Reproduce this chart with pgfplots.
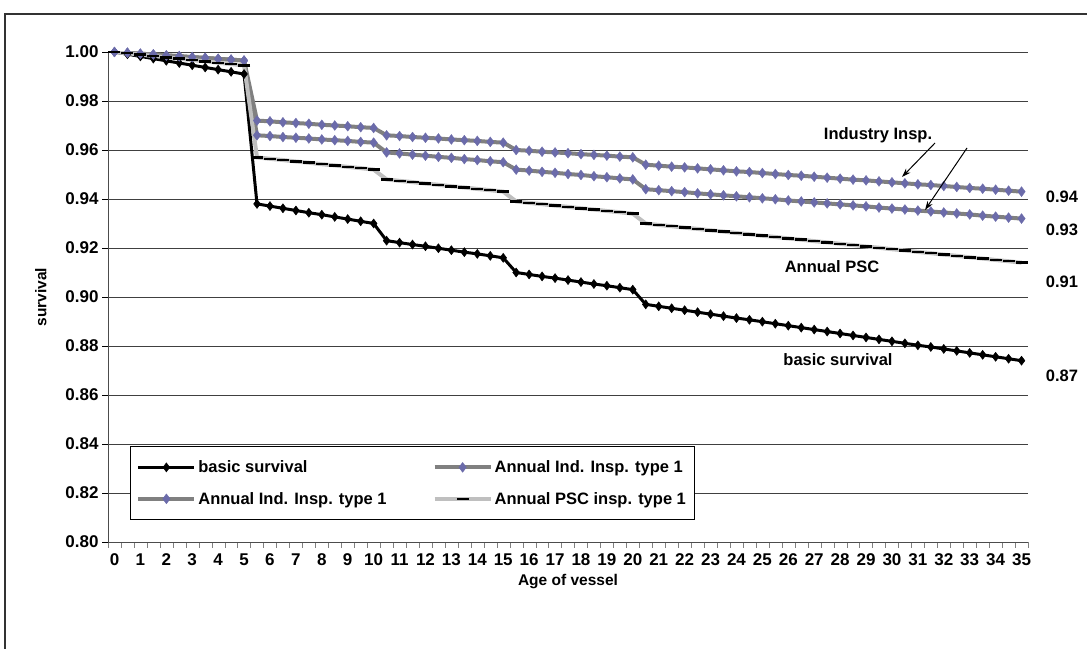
\documentclass[border=0pt]{standalone}
\usepackage{pgfplots}
\pgfplotsset{compat=1.18}
\usepackage{pgfplotstable}
\usetikzlibrary{arrows.meta}
\usepackage{fontspec}
\setmainfont{Liberation Sans}
\definecolor{dia}{HTML}{6B6BAA}
\pgfplotstableread{
x b i1 i2 p
0 1.0000 1.0000 1.0000 1.0000
0.5 .9991 .9997 .9997 .9995
1 .9982 .9993 .9993 .9989
1.5 .9973 .9990 .9990 .9984
2 .9964 .9986 .9986 .9978
2.5 .9955 .9983 .9983 .9973
3 .9946 .9979 .9979 .9967
3.5 .9937 .9976 .9976 .9962
4 .9928 .9972 .9972 .9956
4.5 .9919 .9969 .9969 .9951
5 .9910 .9965 .9965 .9945
5.5 .9380 .9720 .9660 .9570
6 .9371 .9717 .9657 .9564
6.5 .9362 .9713 .9653 .9559
7 .9353 .9710 .9650 .9553
7.5 .9344 .9707 .9647 .9548
8 .9336 .9703 .9643 .9542
8.5 .9327 .9700 .9640 .9537
9 .9318 .9697 .9637 .9531
9.5 .9309 .9693 .9633 .9526
10 .9300 .9690 .9630 .9520
10.5 .9230 .9660 .9590 .9480
11 .9222 .9657 .9586 .9474
11.5 .9214 .9653 .9581 .9469
12 .9207 .9650 .9577 .9463
12.5 .9199 .9647 .9572 .9458
13 .9191 .9643 .9568 .9452
13.5 .9183 .9640 .9563 .9447
14 .9176 .9637 .9559 .9441
14.5 .9168 .9633 .9554 .9436
15 .9160 .9630 .9550 .9430
15.5 .9100 .9600 .9520 .9390
16 .9092 .9597 .9516 .9384
16.5 .9084 .9593 .9511 .9379
17 .9077 .9590 .9507 .9373
17.5 .9069 .9587 .9502 .9368
18 .9061 .9583 .9498 .9362
18.5 .9053 .9580 .9493 .9357
19 .9046 .9577 .9489 .9351
19.5 .9038 .9573 .9484 .9346
20 .9030 .9570 .9480 .9340
20.5 .8970 .9540 .9440 .9300
21 .8962 .9536 .9436 .9294
21.5 .8954 .9532 .9432 .9289
22 .8946 .9529 .9428 .9283
22.5 .8938 .9525 .9423 .9278
23 .8930 .9521 .9419 .9272
23.5 .8922 .9517 .9415 .9267
24 .8914 .9513 .9411 .9261
24.5 .8907 .9510 .9407 .9256
25 .8899 .9506 .9403 .9250
25.5 .8891 .9502 .9399 .9245
26 .8883 .9498 .9394 .9239
26.5 .8875 .9495 .9390 .9234
27 .8867 .9491 .9386 .9228
27.5 .8859 .9487 .9382 .9223
28 .8851 .9483 .9378 .9217
28.5 .8843 .9479 .9374 .9212
29 .8835 .9476 .9370 .9206
29.5 .8827 .9472 .9365 .9201
30 .8819 .9468 .9361 .9195
30.5 .8811 .9464 .9357 .9190
31 .8803 .9460 .9353 .9184
31.5 .8796 .9457 .9349 .9179
32 .8788 .9453 .9345 .9173
32.5 .8780 .9449 .9341 .9168
33 .8772 .9445 .9337 .9162
33.5 .8764 .9442 .9332 .9157
34 .8756 .9438 .9328 .9151
34.5 .8748 .9434 .9324 .9146
35 .8740 .9430 .9320 .9140
}\data
\begin{document}
\begin{tikzpicture}[font=\bfseries]
\useasboundingbox (0pt,0pt) rectangle (1087pt,648pt);
\draw[line width=1.2pt,black!80] (5pt,-5pt) -- (5pt,634pt) -- (1092pt,634pt);
\begin{axis}[at={(108pt,106pt)},anchor=south west,
  width=920pt,height=490pt,scale only axis,
  xmin=-0.25,xmax=35.25,ymin=0.80,ymax=1.00,
  xtick={0,...,35},major x tick style={draw=none},
  minor xtick={-0.25,0.25,...,35.3},
  minor tick length=6pt, tick align=outside,
  ytick={0.80,0.82,...,1.001},
  major y tick style={black},major tick length=6pt,
  yticklabel style={/pgf/number format/.cd,fixed,fixed zerofill,precision=2},
  /pgf/number format/assume math mode=true,
  ticklabel style={font=\bfseries\fontsize{17}{20}\selectfont},
  xticklabel style={yshift=-2pt},
  ymajorgrids,grid style={black!75,line width=0.6pt},
  axis x line*=bottom, axis y line*=left,
  axis line style={black!70,line width=0.8pt},
  xlabel={Age of vessel},ylabel={survival},
  label style={font=\bfseries\fontsize{15.5}{18}\selectfont},
  xlabel style={yshift=-2pt},
  ylabel style={yshift=12pt},
  legend style={at={(0.0239,0.045)},anchor=south west,legend columns=2,
    font=\bfseries\fontsize{16.5}{19}\selectfont,draw=black,line width=0.8pt,
    inner xsep=6pt,inner ysep=12pt,row sep=14pt,/tikz/every even column/.append style={column sep=44pt}},
  legend cell align=left,
  legend image code/.code={\draw[#1] (0pt,0pt) -- (56pt,0pt); \path[#1] plot coordinates {(28pt,0pt)};}
]
\addplot[black,line width=3pt,mark=diamond*,mark size=4.5pt,mark options={line width=0.5pt}] table[x=x,y=b]{\data};
\addlegendentry{basic survival}
\addplot[gray,line width=4pt,mark=diamond*,mark size=5pt,mark options={dia,line width=0.3pt,fill=dia}] table[x=x,y=i1]{\data};
\addlegendentry{Annual Ind. Insp. type 1}
\addplot[gray,line width=4pt,mark=diamond*,mark size=5pt,mark options={dia,line width=0.3pt,fill=dia}] table[x=x,y=i2]{\data};
\addlegendentry{Annual Ind. Insp. type 1}
\addplot[black!25,line width=4pt,mark=-,mark size=6pt,mark options={black,line width=2.5pt}] table[x=x,y=p]{\data};
\addlegendentry{Annual PSC insp. type 1}
\end{axis}
\begin{scope}[font=\bfseries\fontsize{16.5}{19}\selectfont]
\node at (1062pt,451pt) {0.94};
\node at (1062pt,418pt) {0.93};
\node at (1062pt,366pt) {0.91};
\node at (1062pt,272pt) {0.87};
\node at (878pt,513pt) {Industry Insp.};
\node at (832pt,381pt) {Annual PSC};
\node at (838pt,288pt) {basic survival};
\draw[-{Stealth[length=9pt,width=6pt]},line width=1pt] (935pt,505pt) -- (902pt,471pt);
\draw[-{Stealth[length=9pt,width=6pt]},line width=1pt] (967pt,500pt) -- (925pt,438pt);
\end{scope}
\end{tikzpicture}
\end{document}
